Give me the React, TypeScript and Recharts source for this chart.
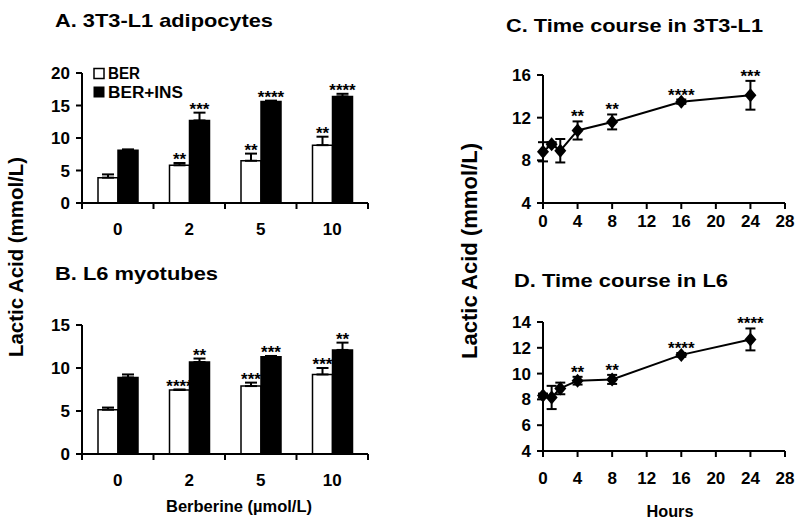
import { BarChart, Bar, XAxis, YAxis, ErrorBar, LabelList, LineChart, Line } from 'recharts'

const FONT = '"Liberation Sans", Arial, Helvetica, sans-serif'

// berberine doses (umol/L)
const doses = ['0', '2', '5', '10']

// A. 3T3-L1 adipocytes
const berA = [3.9, 5.8, 6.5, 8.9]
const berAErr = [0.5, 0.35, 1.1, 1.3]
const insA = [8.1, 12.7, 15.6, 16.4]
const insAErr = [0.15, 1.2, 0.15, 0.4]
const berASig = ['', '**', '**', '**']
const insASig = ['', '***', '****', '****']

// B. L6 myotubes
const berB = [5.15, 7.45, 7.9, 9.25]
const berBErr = [0.25, 0.05, 0.4, 0.75]
const insB = [8.9, 10.7, 11.3, 12.1]
const insBErr = [0.35, 0.4, 0.1, 0.85]
const berBSig = ['', '****', '***', '***']
const insBSig = ['', '**', '***', '**']

// time course (hours)
const hours = [0, 1, 2, 4, 8, 16, 24]
const hourTicks = [0, 4, 8, 12, 16, 20, 24, 28]

const courseC = [8.8, 9.5, 8.9, 10.8, 11.6, 13.5, 14.1]
const courseCErr = [0.9, 0.2, 1.1, 0.85, 0.7, 0.2, 1.35]
const courseCSig = ['', '', '', '**', '**', '****', '***']

const courseD = [8.3, 8.15, 8.85, 9.45, 9.55, 11.45, 12.65]
const courseDErr = [0.15, 0.9, 0.45, 0.3, 0.35, 0.15, 0.85]
const courseDSig = ['', '', '', '**', '**', '****', '****']

const axisLine = { stroke: '#000', strokeWidth: 2 }
const tickLine = { stroke: '#000', strokeWidth: 2 }
const tickFont = { fill: '#000', fontSize: 17, fontWeight: 'bold', fontFamily: FONT }

const sigLabel = (vals: number[], errs: number[]) => (p: any) => {
  const { x, y, width, height, value, index } = p
  if (!value) return null
  const errTop = y - (errs[index] * height) / vals[index]
  return (
    <text x={x + width / 2} y={errTop + 2} textAnchor="middle" fontSize={17} fontWeight="bold" fontFamily={FONT} fill="#000">
      {value}
    </text>
  )
}

interface BarPanelProps {
  top: number
  height: number
  marginTop: number
  marginBottom: number
  yMax: number
  yTicks: number[]
  ber: number[]
  berErr: number[]
  berSig: string[]
  ins: number[]
  insErr: number[]
  insSig: string[]
}

function BarPanel(p: BarPanelProps) {
  const width = 380
  const margin = { top: p.marginTop, right: 12, bottom: p.marginBottom, left: 42 }
  const yAxisW = 40
  const half = (width - margin.left - margin.right - yAxisW) / doses.length / 2
  const rows = doses.map((d, i) => ({
    dose: d,
    ber: p.ber[i],
    berErr: [0, p.berErr[i]],
    berSig: p.berSig[i],
    ins: p.ins[i],
    insErr: [0, p.insErr[i]],
    insSig: p.insSig[i],
  }))

  // tick marks sit on the category boundaries, labels in the middle
  const bandTick = (t: any) => {
    const axisY = t.y - 20
    const last = t.index === t.visibleTicksCount - 1
    return (
      <g>
        <line x1={t.x - half} x2={t.x - half} y1={axisY} y2={axisY + 6} stroke="#000" strokeWidth={2} />
        {last && <line x1={t.x + half} x2={t.x + half} y1={axisY} y2={axisY + 6} stroke="#000" strokeWidth={2} />}
        <text x={t.x} y={t.y} dy="0.71em" textAnchor="middle" {...tickFont}>
          {t.payload.value}
        </text>
      </g>
    )
  }

  return (
    <div style={{ position: 'absolute', left: 0, top: p.top }}>
      <BarChart width={width} height={p.height} data={rows} margin={margin} barGap={0} barSize={20}>
        <XAxis dataKey="dose" axisLine={axisLine} tickLine={false} tickSize={0} tickMargin={20} tick={bandTick} height={30} interval={0} />
        <YAxis domain={[0, p.yMax]} ticks={p.yTicks} width={yAxisW} axisLine={axisLine} tickLine={tickLine} tickSize={6} tickMargin={6} tick={tickFont} interval={0} />
        <Bar dataKey="ber" fill="#fff" stroke="#000" strokeWidth={1.5} isAnimationActive={false}>
          <ErrorBar dataKey="berErr" width={6} stroke="#000" strokeWidth={2} />
          <LabelList dataKey="berSig" content={sigLabel(p.ber, p.berErr)} />
        </Bar>
        <Bar dataKey="ins" fill="#000" stroke="#000" strokeWidth={1.5} isAnimationActive={false}>
          <ErrorBar dataKey="insErr" width={6} stroke="#000" strokeWidth={2} />
          <LabelList dataKey="insSig" content={sigLabel(p.ins, p.insErr)} />
        </Bar>
      </BarChart>
    </div>
  )
}

const Diamond = (d: any) => {
  const { cx, cy } = d
  if (cx == null || cy == null) return null
  return <polygon key={`dm-${d.index}`} points={`${cx},${cy - 7} ${cx + 6},${cy} ${cx},${cy + 7} ${cx - 6},${cy}`} fill="#000" />
}

const pointSig = (p: any) => {
  const { x, y, value } = p
  if (!value) return null
  return (
    <text x={x} y={y + 1} textAnchor="middle" fontSize={17} fontWeight="bold" fontFamily={FONT} fill="#000">
      {value}
    </text>
  )
}

interface LinePanelProps {
  top: number
  height: number
  marginTop: number
  marginBottom: number
  yDomain: [number, number]
  yTicks: number[]
  xTickMargin: number
  vals: number[]
  errs: number[]
  sigs: string[]
}

function LinePanel(p: LinePanelProps) {
  const rows = hours.map((h, i) => ({
    h,
    v: p.vals[i],
    err: p.errs[i],
    upper: p.vals[i] + p.errs[i],
    sig: p.sigs[i],
  }))
  return (
    <div style={{ position: 'absolute', left: 400, top: p.top }}>
      <LineChart width={400} height={p.height} data={rows} margin={{ top: p.marginTop, right: 15, bottom: p.marginBottom, left: 103 }}>
        <XAxis dataKey="h" type="number" domain={[0, 28]} ticks={hourTicks} axisLine={axisLine} tickLine={tickLine} tickSize={6} tickMargin={p.xTickMargin} tick={tickFont} height={30} interval={0} />
        <YAxis domain={p.yDomain} ticks={p.yTicks} width={40} axisLine={axisLine} tickLine={tickLine} tickSize={6} tickMargin={6} tick={tickFont} interval={0} />
        <Line dataKey="v" stroke="#000" strokeWidth={2} dot={Diamond} activeDot={false} isAnimationActive={false}>
          <ErrorBar dataKey="err" direction="y" width={5} stroke="#000" strokeWidth={2} />
        </Line>
        <Line dataKey="upper" stroke="none" dot={false} activeDot={false} isAnimationActive={false}>
          <LabelList dataKey="sig" content={pointSig} />
        </Line>
      </LineChart>
    </div>
  )
}

export default function App() {
  const txt = { fontFamily: FONT, fontWeight: 'bold', fill: '#000', lengthAdjust: 'spacingAndGlyphs' } as const
  return (
    <div style={{ position: 'absolute', left: 0, top: 0, width: 800, height: 525, background: '#fff' }}>
      <BarPanel top={0} height={240} marginTop={73} marginBottom={7} yMax={20} yTicks={[0, 5, 10, 15, 20]}
        ber={berA} berErr={berAErr} berSig={berASig} ins={insA} insErr={insAErr} insSig={insASig} />
      <BarPanel top={240} height={285} marginTop={85} marginBottom={41} yMax={15} yTicks={[0, 5, 10, 15]}
        ber={berB} berErr={berBErr} berSig={berBSig} ins={insB} insErr={insBErr} insSig={insBSig} />
      <LinePanel top={0} height={240} marginTop={75} marginBottom={7} yDomain={[4, 16]} yTicks={[4, 8, 12, 16]}
        xTickMargin={6} vals={courseC} errs={courseCErr} sigs={courseCSig} />
      <LinePanel top={240} height={285} marginTop={82} marginBottom={44} yDomain={[4, 14]} yTicks={[4, 6, 8, 10, 12, 14]}
        xTickMargin={15} vals={courseD} errs={courseDErr} sigs={courseDSig} />

      <svg width={800} height={525} style={{ position: 'absolute', left: 0, top: 0, pointerEvents: 'none' }}>
        <text x={55} y={27} fontSize={19} textLength={218} {...txt}>A. 3T3-L1 adipocytes</text>
        <text x={55} y={280} fontSize={19} textLength={163} {...txt}>B. L6 myotubes</text>
        <text x={506} y={32} fontSize={19} textLength={257} {...txt}>C. Time course in 3T3-L1</text>
        <text x={514} y={287} fontSize={19} textLength={214} {...txt}>D. Time course in L6</text>

        <text x={23} y={257} fontSize={21} textAnchor="middle" textLength={200} transform="rotate(-90 23 257)" {...txt}>Lactic Acid (mmol/L)</text>
        <text x={477} y={251} fontSize={22} textAnchor="middle" textLength={216} transform="rotate(-90 477 251)" {...txt}>Lactic Acid (mmol/L)</text>

        <text x={239} y={512} fontSize={16} textAnchor="middle" textLength={146} {...txt}>Berberine (µmol/L)</text>
        <text x={670} y={517} fontSize={16} textAnchor="middle" textLength={47} {...txt}>Hours</text>

        <rect x={94} y={68.5} width={10} height={10} fill="#fff" stroke="#000" strokeWidth={1.5} />
        <text x={108} y={79} fontSize={16} textLength={32} {...txt}>BER</text>
        <rect x={93.5} y={86.5} width={11} height={11} fill="#000" />
        <text x={108} y={98} fontSize={16} textLength={75} {...txt}>BER+INS</text>
      </svg>
    </div>
  )
}
